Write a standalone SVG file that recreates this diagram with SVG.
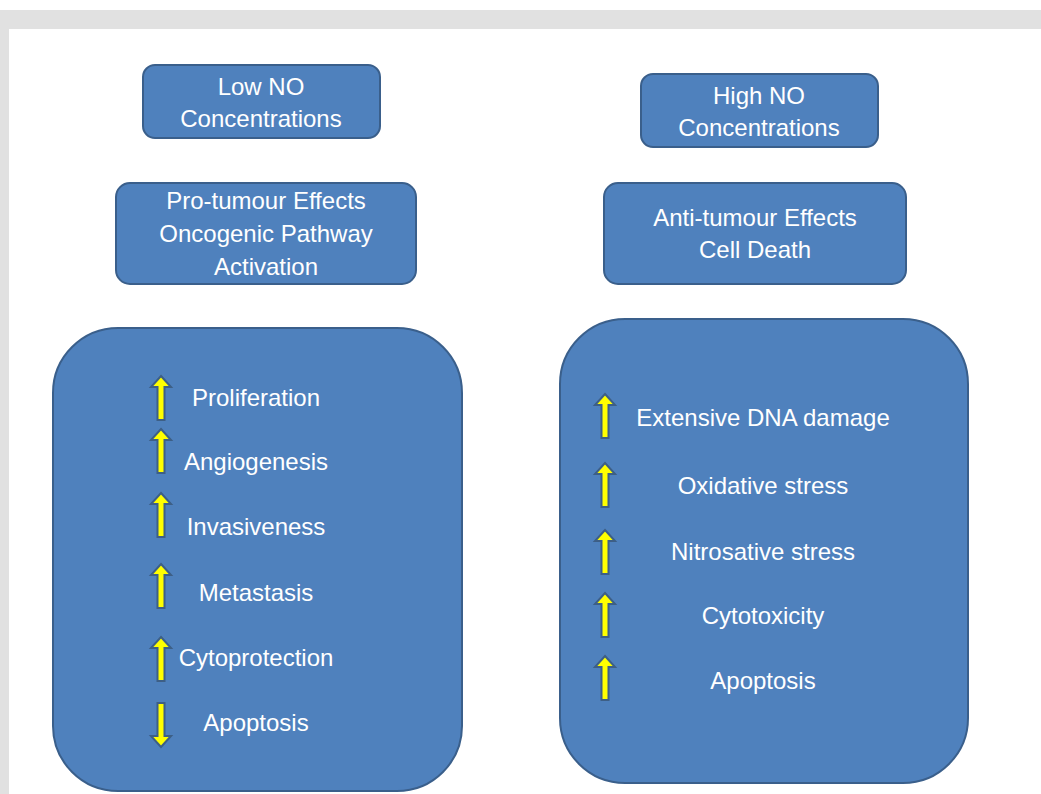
<svg xmlns="http://www.w3.org/2000/svg" width="1041" height="794" viewBox="0 0 1041 794">
  <defs>
    <style>
      .box { fill: #4F81BD; stroke: #3A5F8B; stroke-width: 2; }
      .t { fill: #FFFFFF; font-family: "Liberation Sans", Arial, sans-serif; font-size: 24px; text-anchor: middle; }
      .arr { fill: #FFFF00; stroke: #3D5F86; stroke-width: 2; stroke-linejoin: miter; }
    </style>
    <path id="up" class="arr" d="M0,0 L10,11 L3.5,11 L3.5,44 L-3.5,44 L-3.5,11 L-10,11 Z"/>
  </defs>
  <rect x="0" y="0" width="1041" height="794" fill="#FFFFFF"/>
  <rect x="0" y="10" width="1041" height="19" fill="#E1E1E1"/>
  <rect x="0" y="10" width="9" height="784" fill="#E1E1E1"/>

  <g id="low-no">
    <rect class="box" x="143" y="65" width="237" height="73" rx="12"/>
    <text class="t" x="261" y="95">Low NO</text>
    <text class="t" x="261" y="127">Concentrations</text>
  </g>
  <g id="high-no">
    <rect class="box" x="641" y="74" width="237" height="73" rx="12"/>
    <text class="t" x="759" y="104">High NO</text>
    <text class="t" x="759" y="136">Concentrations</text>
  </g>
  <g id="pro-tumour">
    <rect class="box" x="116" y="183" width="300" height="101" rx="14"/>
    <text class="t" x="266" y="209">Pro-tumour Effects</text>
    <text class="t" x="266" y="242">Oncogenic Pathway</text>
    <text class="t" x="266" y="275">Activation</text>
  </g>
  <g id="anti-tumour">
    <rect class="box" x="604" y="183" width="302" height="101" rx="14"/>
    <text class="t" x="755" y="226">Anti-tumour Effects</text>
    <text class="t" x="755" y="258">Cell Death</text>
  </g>

  <g id="low-effects">
    <rect class="box" x="53" y="328" width="409" height="463" rx="65"/>
    <use href="#up" x="161" y="376"/>
    <text class="t" x="256" y="406">Proliferation</text>
    <use href="#up" x="161" y="429"/>
    <text class="t" x="256" y="470">Angiogenesis</text>
    <use href="#up" x="161" y="493"/>
    <text class="t" x="256" y="535">Invasiveness</text>
    <use href="#up" x="161" y="564"/>
    <text class="t" x="256" y="601">Metastasis</text>
    <use href="#up" x="161" y="637"/>
    <text class="t" x="256" y="666">Cytoprotection</text>
    <use href="#up" transform="translate(161,747) scale(1,-1)"/>
    <text class="t" x="256" y="731">Apoptosis</text>
  </g>

  <g id="high-effects">
    <rect class="box" x="560" y="319" width="408" height="464" rx="65"/>
    <use href="#up" x="605" y="394"/>
    <text class="t" x="763" y="426">Extensive DNA damage</text>
    <use href="#up" x="605" y="463"/>
    <text class="t" x="763" y="494">Oxidative stress</text>
    <use href="#up" x="605" y="530"/>
    <text class="t" x="763" y="560">Nitrosative stress</text>
    <use href="#up" x="605" y="593"/>
    <text class="t" x="763" y="624">Cytotoxicity</text>
    <use href="#up" x="605" y="656"/>
    <text class="t" x="763" y="689">Apoptosis</text>
  </g>

  <g id="connectors"></g>
</svg>
